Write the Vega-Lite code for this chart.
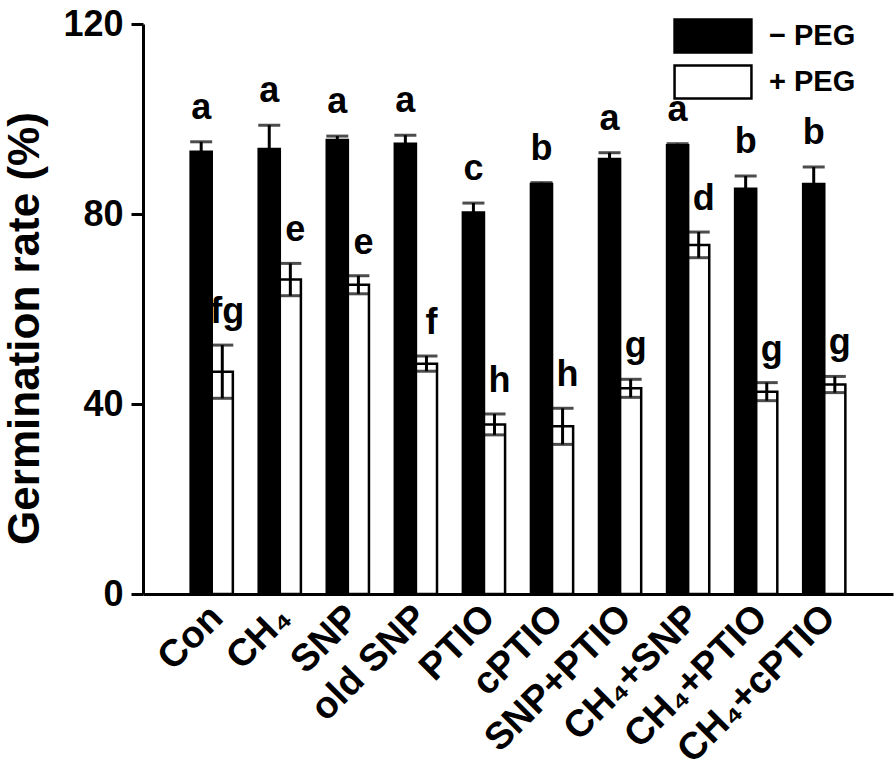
{
  "$schema": "https://vega.github.io/schema/vega-lite/v6.json",
  "width": 750,
  "height": 570,
  "padding": {"left": 3, "top": 6, "right": 4, "bottom": 0},
  "config": {
    "view": {"stroke": null},
    "font": "Liberation Sans",
    "axis": {"grid": false, "domainColor": "black", "tickColor": "black", "labelColor": "black", "titleColor": "black"}
  },
  "data": {
    "values": [
      {"treatment": "Con", "peg": "− PEG", "mean": 93.1, "lo": 91.0, "hi": 95.2, "letter": "a"},
      {"treatment": "Con", "peg": "+ PEG", "mean": 46.8, "lo": 41.2, "hi": 52.4, "letter": "fg"},
      {"treatment": "CH₄", "peg": "− PEG", "mean": 93.7, "lo": 88.7, "hi": 98.7, "letter": "a"},
      {"treatment": "CH₄", "peg": "+ PEG", "mean": 66.2, "lo": 62.8, "hi": 69.6, "letter": "e"},
      {"treatment": "SNP", "peg": "− PEG", "mean": 95.6, "lo": 94.8, "hi": 96.4, "letter": "a"},
      {"treatment": "SNP", "peg": "+ PEG", "mean": 65.1, "lo": 63.2, "hi": 67.0, "letter": "e"},
      {"treatment": "old SNP", "peg": "− PEG", "mean": 94.8, "lo": 93.0, "hi": 96.6, "letter": "a"},
      {"treatment": "old SNP", "peg": "+ PEG", "mean": 48.5, "lo": 46.9, "hi": 50.1, "letter": "f"},
      {"treatment": "PTIO", "peg": "− PEG", "mean": 80.3, "lo": 78.3, "hi": 82.3, "letter": "c"},
      {"treatment": "PTIO", "peg": "+ PEG", "mean": 35.7, "lo": 33.5, "hi": 37.9, "letter": "h"},
      {"treatment": "cPTIO", "peg": "− PEG", "mean": 86.3, "lo": 86.0, "hi": 86.6, "letter": "b"},
      {"treatment": "cPTIO", "peg": "+ PEG", "mean": 35.3, "lo": 31.5, "hi": 39.1, "letter": "h"},
      {"treatment": "SNP+PTIO", "peg": "− PEG", "mean": 91.6, "lo": 90.3, "hi": 92.9, "letter": "a"},
      {"treatment": "SNP+PTIO", "peg": "+ PEG", "mean": 43.3, "lo": 41.4, "hi": 45.2, "letter": "g"},
      {"treatment": "CH₄+SNP", "peg": "− PEG", "mean": 94.5, "lo": 94.2, "hi": 94.8, "letter": "a"},
      {"treatment": "CH₄+SNP", "peg": "+ PEG", "mean": 73.5, "lo": 70.8, "hi": 76.2, "letter": "d"},
      {"treatment": "CH₄+PTIO", "peg": "− PEG", "mean": 85.3, "lo": 82.6, "hi": 88.0, "letter": "b"},
      {"treatment": "CH₄+PTIO", "peg": "+ PEG", "mean": 42.6, "lo": 40.7, "hi": 44.5, "letter": "g"},
      {"treatment": "CH₄+cPTIO", "peg": "− PEG", "mean": 86.3, "lo": 82.7, "hi": 89.9, "letter": "b"},
      {"treatment": "CH₄+cPTIO", "peg": "+ PEG", "mean": 44.1, "lo": 42.4, "hi": 45.8, "letter": "g"}
    ]
  },
  "encoding": {
    "x": {
      "field": "treatment", "type": "nominal", "sort": null,
      "scale": {"paddingInner": 0.38, "paddingOuter": 0.7},
      "axis": {"title": null, "labelAngle": -45, "labelFontSize": 38, "labelFontWeight": "bold", "ticks": false, "domainWidth": 3, "labelPadding": 4, "labelLimit": 0, "labelOffset": -8}
    },
    "xOffset": {"field": "peg", "type": "nominal", "sort": ["− PEG", "+ PEG"], "scale": {"paddingInner": 0, "paddingOuter": 0}}
  },
  "layer": [
    {
      "mark": {"type": "bar", "stroke": "black", "strokeWidth": 2.5},
      "encoding": {
        "y": {
          "field": "mean", "type": "quantitative",
          "scale": {"domain": [0, 120], "nice": false},
          "axis": {"values": [0, 40, 80, 120], "title": "Germination rate (%)", "titleFontSize": 44, "titleFontWeight": "bold", "titlePadding": 15, "titleY": 304, "labelFontSize": 36, "labelFontWeight": "bold", "tickSize": 12, "tickWidth": 3, "domainWidth": 3, "labelPadding": 8}
        },
        "fill": {
          "field": "peg", "type": "nominal",
          "scale": {"domain": ["− PEG", "+ PEG"], "range": ["black", "white"]},
          "legend": {
            "title": null, "orient": "none", "legendX": 552, "legendY": -6,
            "symbolType": "M-2.33,-1L2.33,-1L2.33,1L-2.33,1Z", "symbolSize": 1089,
            "symbolStrokeColor": "black", "symbolStrokeWidth": 2.5,
            "labelFontSize": 29, "labelFontWeight": "bold", "labelColor": "black", "labelOffset": 38, "rowPadding": 2
          }
        }
      }
    },
    {
      "mark": {"type": "rule", "color": "black", "strokeWidth": 3},
      "encoding": {"y": {"field": "lo", "type": "quantitative"}, "y2": {"field": "hi"}}
    },
    {
      "mark": {"type": "tick", "color": "black", "thickness": 3, "size": 22},
      "encoding": {"y": {"field": "hi", "type": "quantitative"}}
    },
    {
      "mark": {"type": "tick", "color": "black", "thickness": 3, "size": 22},
      "encoding": {"y": {"field": "lo", "type": "quantitative"}}
    },
    {
      "transform": [{"filter": "datum.peg === '− PEG'"}],
      "mark": {"type": "text", "fontSize": 36, "fontWeight": "bold", "color": "black", "baseline": "alphabetic", "dy": -23},
      "encoding": {"y": {"field": "hi", "type": "quantitative"}, "text": {"field": "letter"}}
    },
    {
      "transform": [{"filter": "datum.peg === '+ PEG'"}],
      "mark": {"type": "text", "fontSize": 36, "fontWeight": "bold", "color": "black", "baseline": "alphabetic", "dy": -22, "dx": 5},
      "encoding": {"y": {"field": "hi", "type": "quantitative"}, "text": {"field": "letter"}}
    }
  ]
}
